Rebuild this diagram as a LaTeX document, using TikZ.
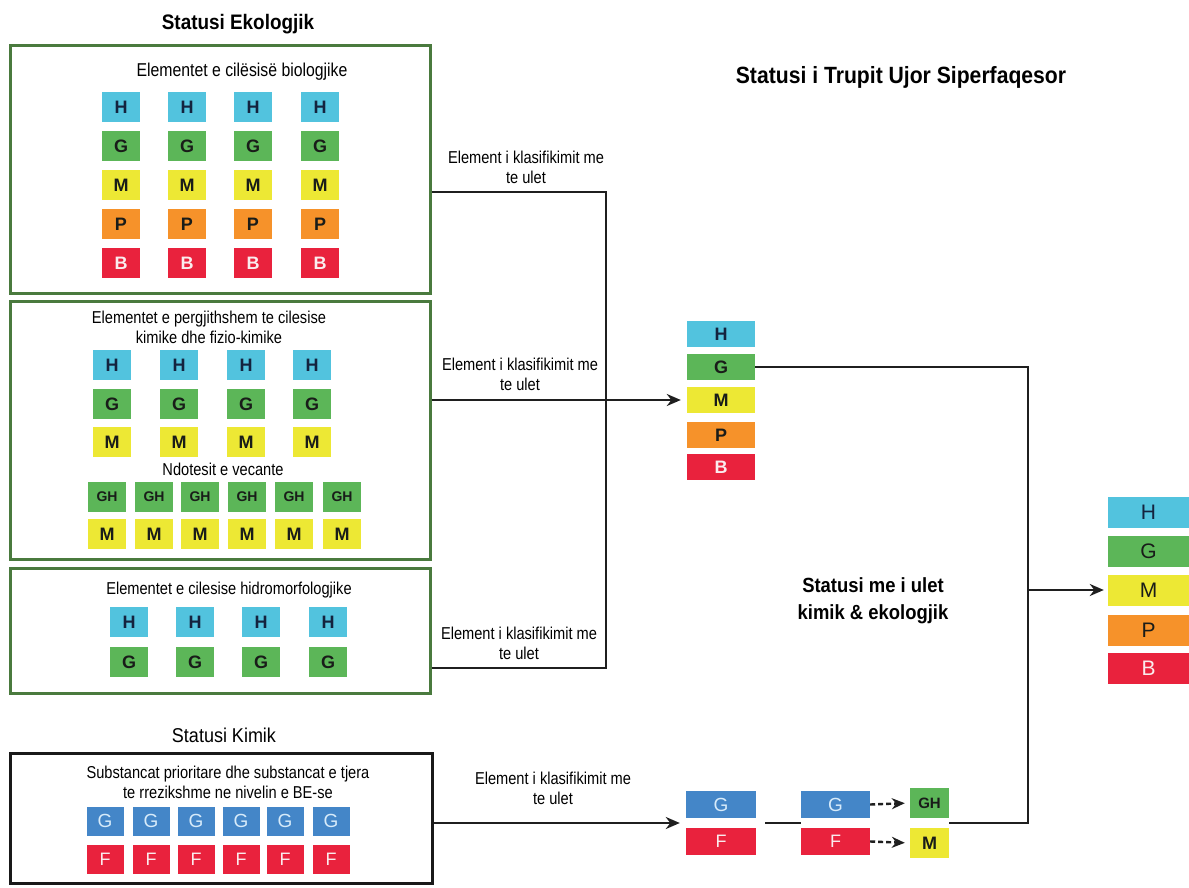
\documentclass[tikz,border=0pt]{standalone}
\usepackage{fontspec}
\setmainfont{Liberation Sans}
\newfontfamily\cond[FakeStretch=0.85]{Liberation Sans}
\newfontfamily\ttl[FakeStretch=0.9]{Liberation Sans}
\usetikzlibrary{arrows.meta}
\definecolor{colH}{RGB}{82,195,222}
\definecolor{colG}{RGB}{92,182,88}
\definecolor{colM}{RGB}{237,232,52}
\definecolor{colP}{RGB}{246,146,42}
\definecolor{colB}{RGB}{233,34,61}
\definecolor{colGb}{RGB}{68,134,200}
\definecolor{ecogreen}{RGB}{74,122,62}
\definecolor{txH}{RGB}{20,35,62}
\definecolor{txD}{RGB}{25,28,25}
\definecolor{txW}{RGB}{250,236,238}
\definecolor{txGb}{RGB}{215,235,250}
\begin{document}
\begin{tikzpicture}[x=1pt,y=-1pt,
  sq/.style={rectangle, inner sep=0pt, minimum width=38pt, minimum height=30pt,
    font=\bfseries\fontsize{18}{18}\selectfont},
  tH/.style={sq, fill=colH, text=txH},
  tG/.style={sq, fill=colG, text=txD},
  tM/.style={sq, fill=colM, text=txD},
  tP/.style={sq, fill=colP, text=txD},
  tB/.style={sq, fill=colB, text=txW},
  tGb/.style={sq, fill=colGb, text=txGb, font=\fontsize{19}{19}\selectfont},
  tF/.style={sq, fill=colB, text=txW, font=\fontsize{18}{18}\selectfont},
  ecobox/.style={rectangle, draw=ecogreen, line width=3pt, inner sep=0pt},
  chembox/.style={rectangle, draw=black!90, line width=3pt, inner sep=0pt},
  txt/.style={align=center, inner sep=0pt, font=\cond\fontsize{17.2}{20}\selectfont},
  lab/.style={align=center, inner sep=0pt, font=\cond\fontsize{17.2}{20}\selectfont},
  conn/.style={line width=2.4pt, draw=black!88},
  arr/.style={conn, -{Stealth[length=14pt,width=12pt]}},
  darr/.style={conn, dash pattern=on 5pt off 3pt, -{Stealth[length=13pt,width=11pt]}},
  midsq/.style={minimum width=68pt, minimum height=26pt},
  rsq/.style={minimum width=81pt, minimum height=31pt, font=\fontsize{21}{21}\selectfont}
]
\useasboundingbox (0,0) rectangle (1189,888);
\fill[white] (0,0) rectangle (1189,888);

% ---------- titles ----------
\node[font=\ttl\bfseries\fontsize{21}{24}\selectfont] (t1) at (238,24) {Statusi Ekologjik};
\node[font=\ttl\bfseries\fontsize{23.5}{26}\selectfont] (t2) at (901,77) {Statusi i Trupit Ujor Siperfaqesor};
\node[align=center, font=\ttl\bfseries\fontsize{20.5}{27}\selectfont] (t3) at (873,601) {Statusi me i ulet\\kimik \& ekologjik};
\node[font=\ttl\fontsize{20}{22}\selectfont] (t4) at (224,735) {Statusi Kimik};

% ---------- frames ----------
\node[ecobox, minimum width=420pt, minimum height=247pt] (eco1) at (220,169.5) {};
\node[ecobox, minimum width=420pt, minimum height=258pt] (eco2) at (220,430) {};
\node[ecobox, minimum width=420pt, minimum height=125pt] (eco3) at (220,630.5) {};
\node[chembox, minimum width=422pt, minimum height=130pt] (chem) at (221,818) {};

% ---------- box 1 ----------
\node[txt, font=\cond\fontsize{18.6}{20}\selectfont] (e1t) at (242,72) {Elementet e cilësisë biologjike};
\foreach \x [count=\i] in {121,187,253,320} {
  \node[tH] (aH\i) at (\x,107) {H};
  \node[tG] (aG\i) at (\x,146) {G};
  \node[tM] (aM\i) at (\x,185) {M};
  \node[tP] (aP\i) at (\x,224) {P};
  \node[tB] (aB\i) at (\x,263) {B};
}

% ---------- box 2 ----------
\node[txt] (e2t) at (209,327) {Elementet e pergjithshem te cilesise\\kimike dhe fizio-kimike};
\foreach \x [count=\i] in {112,179,246,312} {
  \node[tH] (bH\i) at (\x,365) {H};
  \node[tG] (bG\i) at (\x,404) {G};
  \node[tM] (bM\i) at (\x,442) {M};
}
\node[txt] (e2n) at (223,469) {Ndotesit e vecante};
\foreach \x [count=\i] in {107,154,200,247,294,342} {
  \node[tG, font=\bfseries\fontsize{14}{14}\selectfont] (bGH\i) at (\x,497) {GH};
  \node[tM] (bMM\i) at (\x,534) {M};
}

% ---------- box 3 ----------
\node[txt] (e3t) at (229,590) {Elementet e cilesise hidromorfologjike};
\foreach \x [count=\i] in {129,195,261,328} {
  \node[tH] (cH\i) at (\x,622) {H};
  \node[tG] (cG\i) at (\x,662) {G};
}

% ---------- box 4 ----------
\node[txt] (e4t) at (228,782) {Substancat prioritare dhe substancat e tjera\\te rrezikshme ne nivelin e BE-se};
\foreach \x [count=\i] in {105,151,196,241,285,331} {
  \node[tGb, minimum width=37pt, minimum height=29pt] (dG\i) at (\x,821) {G};
  \node[tF, minimum width=37pt, minimum height=29pt] (dF\i) at (\x,859) {F};
}

% ---------- middle stack ----------
\node[tH, midsq] (mH) at (721,334) {H};
\node[tG, midsq] (mG) at (721,367) {G};
\node[tM, midsq] (mM) at (721,400) {M};
\node[tP, midsq] (mP) at (721,435) {P};
\node[tB, midsq] (mB) at (721,467) {B};

% ---------- right stack ----------
\node[tH, rsq] (rH) at (1148.5,512) {H};
\node[tG, rsq] (rG) at (1148.5,551) {G};
\node[tM, rsq] (rM) at (1148.5,590) {M};
\node[tP, rsq] (rP) at (1148.5,630) {P};
\node[tB, rsq, text=txW] (rB) at (1148.5,668) {B};

% ---------- bottom chemistry chain ----------
\node[tGb, minimum width=70pt, minimum height=27pt] (g1) at (721,804.5) {G};
\node[tF, minimum width=70pt, minimum height=27pt] (f1) at (721,841.5) {F};
\node[tGb, minimum width=69pt, minimum height=27pt] (g2) at (835.5,804.5) {G};
\node[tF, minimum width=69pt, minimum height=27pt] (f2) at (835.5,841.5) {F};
\node[tG, minimum width=39pt, minimum height=30pt, font=\bfseries\fontsize{15}{15}\selectfont] (ghb) at (929.5,803) {GH};
\node[tM, minimum width=39pt, minimum height=30pt] (mmb) at (929.5,843) {M};

% ---------- labels ----------
\node[lab] (l1) at (526,167) {Element i klasifikimit me\\te ulet};
\node[lab] (l2) at (520,374) {Element i klasifikimit me\\te ulet};
\node[lab] (l3) at (519,643) {Element i klasifikimit me\\te ulet};
\node[lab] (l4) at (553,788) {Element i klasifikimit me\\te ulet};

% ---------- connectors ----------
\coordinate (j1) at (606,192);
\coordinate (j3) at (606,668);
\draw[conn] (eco1.east |- j1) -- (j1) -- (j3) -- (eco3.east |- j3);
\draw[arr, shorten >=6pt] (eco2.east |- mM.west) -- (mM.west);

\coordinate (j5) at (1028,823);
\draw[conn] (mG.east) -| (j5) -- (ghb.east |- j5);
\draw[arr, shorten >=4pt] (rM.west -| j5) -- (rM.west);

\draw[arr, shorten >=6pt] (chem.east |- j5) -- (g1.west |- j5);
\draw[conn] ([xshift=9pt]g1.east |- j5) -- (g2.west |- j5);
\draw[darr, shorten >=5pt] (g2.east) -- (ghb.west);
\draw[darr, shorten >=5pt] (f2.east) -- (mmb.west);
\end{tikzpicture}
\end{document}
